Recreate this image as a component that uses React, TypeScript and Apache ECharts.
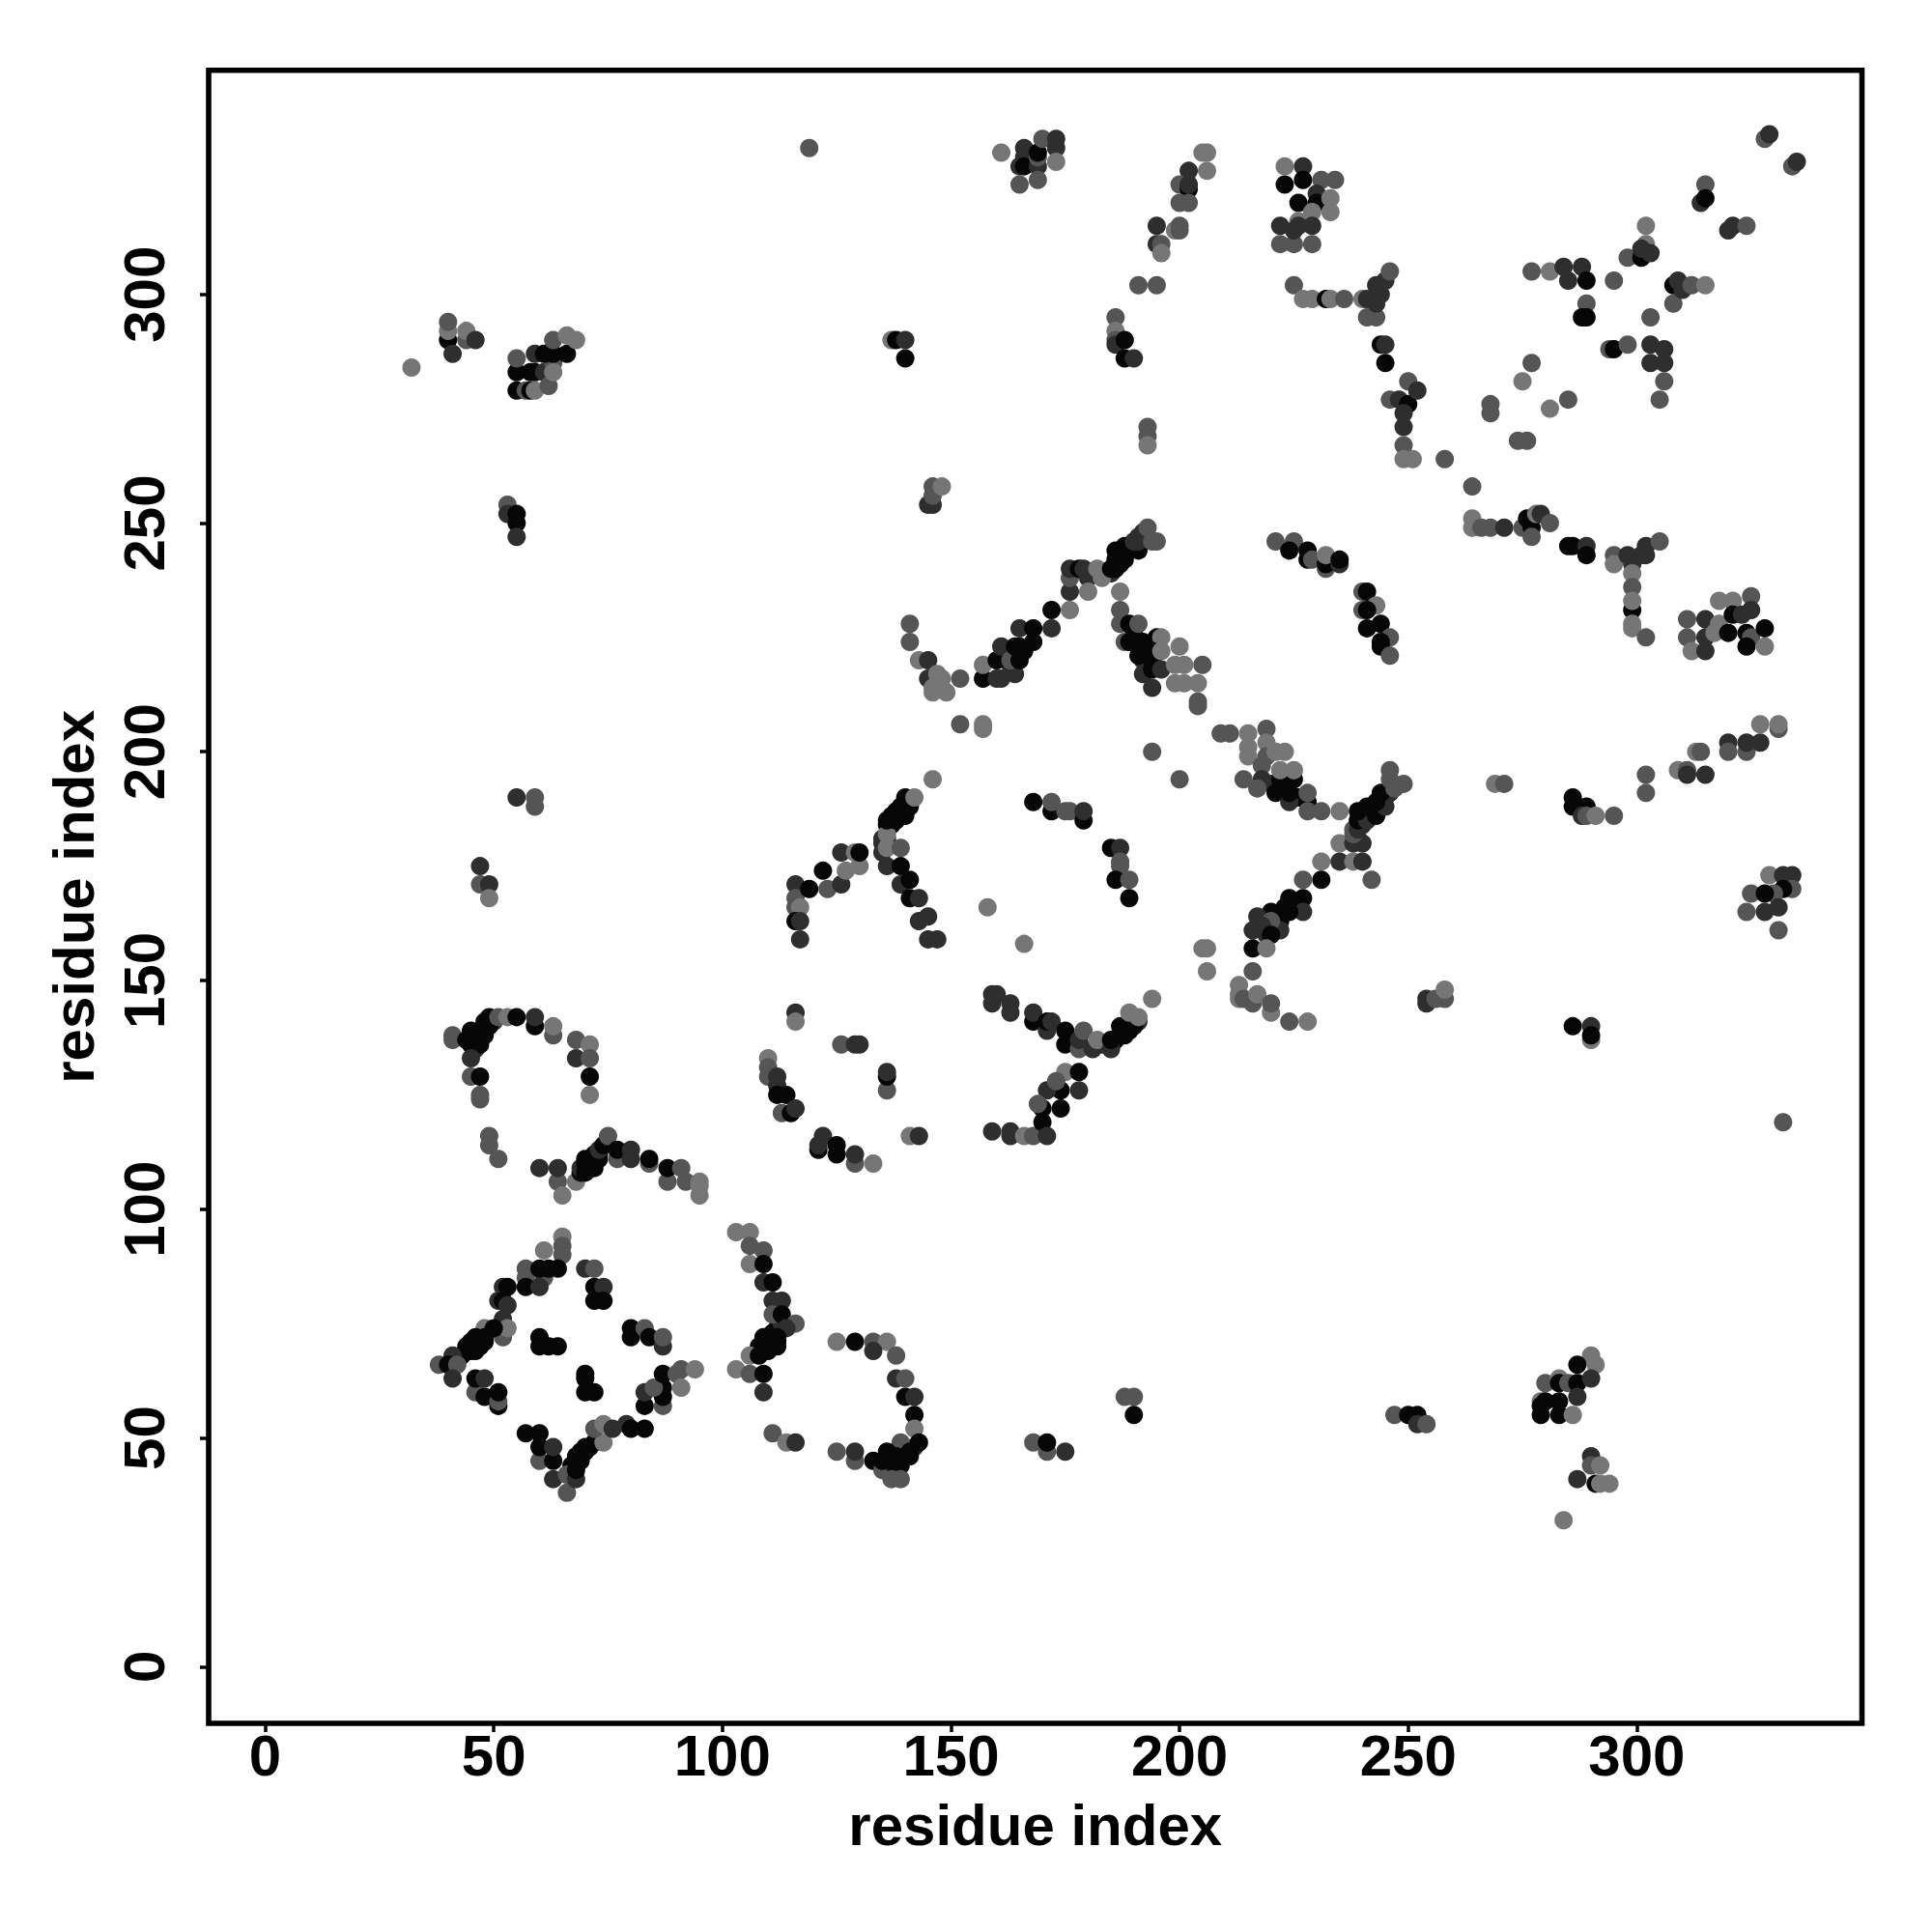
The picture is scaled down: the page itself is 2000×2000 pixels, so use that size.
import React, { useEffect, useRef } from "react";
import * as echarts from "echarts";

type P = [number, number, number];

const xTicks = [0, 50, 100, 150, 200, 250, 300];
const yTicks = [0, 50, 100, 150, 200, 250, 300];
const axisTitle = "residue index";

// [x residue, y residue, contact level: 0 strongest .. 3 weakest]
const denseRuns: P[] = [[245,190,0],[246,191,1],[244,189,0],[242,187,0],[240,186,0],[241,187,0],[243,188,1],[240,184,1],[239,181,2],[187,241,0],[188,243,0],[189,245,0],[190,245,0],[191,247,1],[192,248,1],[186,241,0],[184,239,2],[185,239,1],[137,184,0],[137,186,0],[138,186,0],[139,188,0],[139,187,0],[140,188,0],[141,189,0],[136,181,1],[111,70,0],[112,70,0],[110,71,0],[111,73,0],[112,74,0],[113,75,1],[112,78,1],[46,137,0],[46,135,1],[46,138,0],[47,139,0],[47,138,0],[50,141,1],[67,44,0],[68,44,0],[69,47,0],[70,47,0],[71,48,0],[137,44,0],[139,44,0],[140,47,0],[141,46,0],[142,48,1],[186,137,0],[187,138,0],[189,139,0],[189,140,0],[191,141,1],[183,136,1],[45,69,0],[47,70,0],[47,71,0],[44,70,0],[42,67,1],[72,111,1],[73,112,0],[70,111,0],[220,161,0],[219,160,1],[222,163,0],[223,166,0],[226,167,0],[192,224,0],[190,226,0],[165,223,0],[166,222,0],[163,219,1],[192,220,1],[194,220,0],[222,192,0],[226,190,0],[220,193,1]];
const bandA: P[] = [[49,116,2],[49,114,2],[51,111,2],[60,109,1],[64,106,2],[64,109,1],[65,103,3],[68,106,3],[69,108,0],[69,109,1],[70,108,0],[70,110,0],[71,109,0],[71,111,0],[72,109,0],[72,112,0],[73,111,0],[73,113,1],[74,114,0],[75,116,2],[77,111,2],[77,113,0],[80,111,1],[80,113,1],[84,110,2],[84,111,0],[88,106,2],[88,109,0],[91,109,2],[92,106,2],[95,106,3],[95,105,3],[95,103,3]];
const bandB: P[] = [[121,113,0],[121,114,1],[122,116,1],[125,112,0],[125,114,0],[129,110,2],[129,112,1],[133,110,3],[141,116,3],[143,116,1]];
const diamondNW: P[] = [[65,94,3],[61,91,3],[65,90,2],[65,92,2],[57,87,2],[57,85,2],[61,85,2],[60,87,0],[62,87,0],[64,87,0],[57,83,0],[60,83,1],[52,83,1],[53,83,0],[51,80,1],[52,80,0],[53,79,1],[52,76,1],[52,72,2],[53,74,3],[48,74,3],[50,74,0],[48,72,0],[48,71,0],[46,72,0],[45,71,0],[46,69,0],[44,69,0],[43,68,0],[41,68,1],[38,66,2],[40,66,0],[42,66,2],[41,63,1]];
const diamondSW: P[] = [[46,60,2],[46,63,0],[48,63,1],[48,59,0],[51,57,0],[51,58,2],[51,60,0],[57,51,0],[60,51,0],[60,45,2],[60,48,0],[63,45,0],[63,48,1],[63,41,1],[66,38,2],[66,42,2],[68,41,1],[68,43,0],[69,45,0],[68,46,0],[70,48,0],[72,49,0],[74,49,3]];
const diamondSE: P[] = [[72,52,2],[74,53,3],[76,52,1],[79,53,1],[80,52,0],[83,52,0],[83,57,0],[83,60,1],[87,57,2],[87,59,0],[87,61,0],[85,61,2],[87,64,0],[90,64,2],[91,61,3],[91,65,2],[94,65,3]];
const diamondCore: P[] = [[60,72,0],[60,70,0],[62,70,0],[64,70,0],[70,64,0],[70,63,0],[70,60,0],[72,60,0],[70,87,1],[72,87,2],[72,83,0],[74,83,1],[72,80,0],[74,80,0],[80,74,0],[80,72,0],[83,74,2],[84,72,0],[87,70,1],[87,72,2]];
const arcRight: P[] = [[103,95,3],[106,95,3],[106,92,2],[106,88,3],[109,91,2],[109,88,0],[109,84,1],[111,84,0],[111,80,1],[113,80,1],[111,77,2],[113,77,0],[116,75,2],[114,74,1],[112,72,0],[112,71,0],[109,72,0],[108,70,0],[110,69,0],[106,68,3],[108,68,0],[103,65,3],[106,64,2],[109,64,0],[109,60,1],[111,51,2],[114,49,3],[116,49,1]];
const hookC: P[] = [[125,71,3],[129,71,0],[133,71,2],[136,71,3],[133,69,1],[138,68,2],[138,63,1],[140,63,2],[140,59,0],[142,59,1],[142,55,0],[142,52,3],[139,49,2],[141,47,0],[143,49,0],[136,47,0],[133,45,0],[135,43,2],[135,45,0],[138,46,0],[138,43,0],[137,41,2],[139,41,2],[125,47,2],[129,45,2],[129,47,1]];
const lowCentre: P[] = [[168,49,2],[171,47,2],[171,49,0],[175,47,1],[188,59,2],[190,59,2],[190,55,0],[247,55,2],[250,55,0],[252,55,0],[252,53,1],[254,53,2]];
const clusterLowRight: P[] = [[290,68,3],[291,66,3],[287,66,0],[280,62,2],[283,63,3],[283,62,0],[285,62,2],[287,62,0],[290,63,1],[279,58,3],[279,57,0],[280,58,0],[283,58,0],[287,59,1],[279,55,0],[283,55,0],[286,55,3],[290,46,1],[287,41,1],[290,44,2],[291,40,0],[292,44,3],[292,40,3],[294,40,3],[284,32,3]];
const archLeft: P[] = [[55,190,1],[59,188,2],[59,190,2],[47,175,1],[47,171,2],[49,171,1],[49,168,3],[41,138,2],[41,137,2],[44,137,0],[45,139,0],[45,136,0],[47,136,0],[45,133,1],[48,138,0],[48,141,0],[49,140,0],[49,142,0],[51,142,2],[53,142,3],[55,142,0],[59,140,0],[59,142,1],[63,138,2],[63,140,3],[68,137,2],[71,136,3],[68,133,1],[71,133,2],[71,129,0],[71,125,3],[45,129,2],[47,129,0],[47,125,2],[47,124,2]];
const archMid: P[] = [[116,171,1],[116,168,2],[116,166,2],[117,166,3],[116,163,0],[117,163,1],[117,159,1],[119,170,0],[123,170,2],[126,171,1],[122,174,0],[127,174,3],[130,175,3],[126,178,1],[129,178,3],[130,178,0],[146,194,3],[135,178,1],[136,175,1],[139,175,0],[135,180,1],[135,181,1],[136,184,0],[136,182,3],[136,179,3],[139,179,2],[138,185,0],[136,185,0],[138,187,0],[140,186,0],[141,188,0],[140,190,0],[142,190,3],[139,171,1],[141,172,0],[141,168,0],[143,168,1],[143,163,1],[145,164,1],[145,159,1],[147,159,1]];
const ringLow: P[] = [[116,143,1],[116,141,3],[126,136,2],[129,136,1],[130,136,1],[136,126,2],[136,129,0],[136,130,1],[110,133,3],[110,131,2],[110,129,2],[112,129,1],[112,127,1],[112,125,0],[114,125,0],[113,121,2],[115,121,0],[116,122,1],[159,117,1],[163,116,1],[163,117,1],[166,116,3],[168,116,2],[170,119,0],[171,116,1],[170,122,0],[174,122,0],[174,126,0],[171,126,1],[169,123,2],[178,126,1],[175,130,3],[173,128,2],[178,130,0]];
const ringTop: P[] = [[168,189,0],[172,187,0],[172,189,2],[175,187,2],[176,187,2],[179,185,0],[179,187,1],[185,179,0],[187,179,1],[187,176,2],[187,175,2],[186,172,0],[189,172,2],[189,168,0],[158,166,3],[166,158,3]];
const ringVee: P[] = [[159,145,1],[159,147,1],[160,147,1],[163,145,1],[163,143,1],[168,141,0],[168,143,1],[171,139,1],[171,141,0],[172,141,1],[175,136,0],[175,139,0],[178,135,2],[178,137,1],[179,139,2],[181,135,1],[182,137,3],[185,135,1],[185,137,0],[187,140,0],[188,138,0],[190,140,0],[189,143,3],[191,142,3],[194,146,3]];
const crossLeft: P[] = [[194,200,2],[200,194,2],[209,204,2],[211,204,2],[215,204,3],[219,205,2],[219,202,3],[215,201,3],[215,199,3],[219,199,2],[221,200,3],[223,200,3],[218,197,2],[222,194,0],[225,194,0],[222,196,3],[225,196,3],[214,194,2],[218,194,1],[217,192,2],[221,191,0],[224,189,1],[224,191,0],[228,189,0],[228,191,2],[228,187,2],[231,187,2],[235,187,3]];
const crossRise: P[] = [[231,176,3],[231,172,0],[227,172,2],[227,168,0],[224,168,0],[227,165,1],[224,165,0],[220,165,0],[221,164,0],[217,164,1],[222,161,1],[220,163,2],[218,162,1],[220,160,0],[216,161,1],[216,157,0],[219,157,3],[205,157,3],[206,157,3],[206,152,3],[216,152,2],[213,149,3],[213,147,3],[213,146,3],[214,146,2],[216,145,2],[217,147,3],[220,143,3],[220,145,2],[224,141,2],[228,141,3]];
const crossArm: P[] = [[242,172,2],[235,176,1],[238,176,3],[240,176,1],[235,180,3],[238,180,1],[240,180,1],[238,182,2],[238,183,2],[239,183,1],[239,185,0],[241,185,1],[239,187,0],[243,186,0],[241,188,0],[245,188,1],[243,189,0],[244,191,0],[247,192,2],[249,193,2],[246,194,2],[246,196,2]];
const stemLeft: P[] = [[145,254,1],[146,254,1],[146,256,2],[146,258,2],[148,258,3],[141,228,2],[141,224,2],[143,220,3],[145,220,1],[145,216,1],[147,217,3],[148,216,3],[146,214,3],[148,214,3],[146,213,3],[149,213,3],[152,216,2],[152,206,2],[157,206,3],[157,205,3]];
const riseCentre: P[] = [[157,216,0],[157,219,3],[160,216,1],[161,216,1],[164,217,1],[160,220,0],[161,223,1],[163,220,2],[165,220,0],[164,223,0],[165,227,1],[168,224,0],[168,227,0],[172,227,1],[172,231,0],[176,231,3],[176,235,1],[176,238,2],[176,240,1],[178,240,0],[179,240,1],[180,238,1],[180,235,3],[183,238,3],[182,240,3],[185,240,0],[186,240,0],[186,242,0],[186,244,0],[188,242,0],[188,245,0],[189,244,0],[191,244,0],[190,246,1],[191,246,1],[193,249,2],[194,246,2],[195,246,2]];
const fallCentre: P[] = [[187,235,3],[187,231,2],[187,228,2],[189,228,0],[191,228,2],[188,224,2],[189,224,0],[191,224,0],[191,221,0],[195,225,0],[196,225,3],[194,222,0],[196,222,3],[192,217,1],[194,218,0],[194,214,1],[196,218,1],[200,223,3],[199,219,3],[201,219,3],[205,219,2],[199,215,3],[201,215,3],[204,215,3],[204,211,2],[204,210,2]];
const blockTop: P[] = [[119,332,2],[161,331,3],[166,332,1],[166,330,1],[165,328,1],[166,328,0],[169,328,1],[169,330,2],[169,331,0],[170,334,2],[173,334,1],[173,332,1],[173,329,3],[165,324,2],[169,325,2]];
const risingTop: P[] = [[205,331,3],[206,331,3],[202,327,1],[206,327,3],[200,324,2],[202,323,0],[202,324,1],[200,320,2],[202,320,2],[195,315,1],[199,314,3],[200,315,2],[200,314,2],[195,311,1],[196,311,2],[196,309,3],[191,302,2],[195,302,2],[186,295,2],[186,292,3],[186,290,2],[186,289,1],[188,290,0],[188,286,0],[190,286,1],[137,290,3],[138,290,0],[140,290,1],[140,286,0],[193,271,2],[193,269,2],[193,267,3]];
const blockUpperLeft: P[] = [[32,284,3],[40,290,0],[40,292,3],[40,294,2],[41,287,1],[44,290,2],[44,292,3],[46,290,1],[55,283,0],[55,286,2],[55,279,0],[57,279,2],[58,279,0],[59,279,3],[58,283,0],[59,283,0],[59,287,1],[61,283,1],[62,280,2],[63,285,2],[61,287,0],[63,287,0],[63,283,3],[63,290,2],[66,287,0],[66,291,3],[68,290,3],[53,254,2],[53,252,1],[55,252,0],[55,250,0],[55,247,1]];
const blockCorner: P[] = [[223,324,0],[223,328,3],[227,328,1],[227,325,0],[231,325,2],[234,325,2],[226,320,0],[230,322,1],[230,320,0],[233,321,3],[226,316,3],[229,318,3],[233,318,3],[222,311,2],[225,311,2],[229,311,2],[222,315,1],[225,314,1],[226,315,1],[229,315,1],[225,302,2],[227,299,3],[229,299,3],[232,299,0],[233,299,3],[236,299,2],[240,299,3],[241,299,1],[241,295,2],[243,295,2],[243,298,1],[244,300,1],[243,302,1],[245,303,1],[246,305,2]];
const dropRight: P[] = [[244,289,0],[245,289,1],[245,285,0],[250,281,2],[246,277,2],[248,277,1],[250,276,0],[252,279,1],[249,274,1],[249,271,1],[249,267,2],[249,264,3],[251,264,3],[258,264,2],[264,258,2],[268,276,2],[268,274,2],[275,281,3],[277,285,2],[274,268,2],[276,268,2],[281,275,3],[285,277,2]];
const webUpperRight: P[] = [[277,305,2],[281,305,3],[284,306,1],[288,306,1],[285,303,1],[289,303,0],[295,303,2],[289,298,2],[288,295,0],[289,295,0],[294,288,2],[295,288,0],[298,289,2],[303,289,1],[306,288,1],[303,285,1],[306,285,1],[306,281,2],[305,277,2],[303,295,2],[308,298,2],[308,302,0],[309,303,1],[310,301,1],[312,302,2],[315,302,3],[298,308,2],[302,315,3],[302,311,3],[301,308,0],[301,310,1],[303,309,1],[315,324,2],[314,320,1],[315,321,0],[320,314,1],[321,315,1],[324,315,2],[328,334,2],[329,335,1],[334,328,2],[335,329,1]];
const ridge250: P[] = [[221,246,2],[225,246,2],[224,244,0],[228,244,0],[228,242,0],[229,242,2],[232,240,2],[232,241,0],[232,243,3],[235,241,1],[235,242,0],[240,235,2],[241,235,0],[243,232,3],[240,231,2],[241,231,0],[244,228,0],[241,227,0],[246,225,2],[244,224,0],[244,223,0],[246,221,2],[264,251,3],[264,249,3],[266,249,2],[268,249,2],[271,249,1],[275,249,2],[276,251,0],[277,249,0],[278,252,3],[279,252,1],[281,250,2],[277,247,2],[285,245,0],[286,245,0],[289,245,1],[289,243,0]];
const ridge300: P[] = [[295,243,2],[295,241,3],[298,243,1],[299,241,1],[299,239,3],[301,243,1],[302,243,1],[302,245,1],[305,246,2],[299,236,2],[299,231,0],[299,233,3],[299,228,3],[299,227,3],[302,225,2],[311,229,2],[311,225,2],[312,222,3],[315,229,1],[315,225,1],[315,222,1],[318,233,3],[321,233,3],[325,234,2],[318,228,3],[317,226,3],[321,230,0],[323,230,1],[325,231,1],[320,226,0],[324,226,0],[325,225,2],[328,227,0],[324,223,0],[328,223,3]];
const tail190: P[] = [[269,193,3],[271,193,2],[286,190,0],[286,188,0],[289,188,0],[288,186,1],[289,186,2],[291,186,3],[295,186,2],[302,195,2],[302,191,2],[309,196,3],[311,196,2],[311,195,1],[315,195,1],[313,200,3],[314,200,2],[320,202,1],[320,200,2],[324,200,2],[324,202,1],[327,202,1],[327,206,3],[331,205,2],[331,206,3]];
const farRight: P[] = [[329,173,3],[332,173,1],[334,173,1],[334,170,2],[332,170,0],[330,169,2],[325,169,2],[328,169,0],[324,165,2],[328,165,1],[331,166,1],[331,161,2],[254,146,1],[254,145,1],[256,146,2],[258,146,2],[258,148,3],[286,140,0],[290,140,1],[290,137,3],[290,138,0],[332,119,2]];

const allPoints: P[] = [denseRuns, bandA, bandB, diamondNW, diamondSW, diamondSE, diamondCore, arcRight, hookC, lowCentre, clusterLowRight, archLeft, archMid, ringLow, ringTop, ringVee, crossLeft, crossRise, crossArm, stemLeft, riseCentre, fallCentre, blockTop, risingTop, blockUpperLeft, blockCorner, dropRight, webUpperRight, ridge250, ridge300, tail190, farRight].flat();

const levelColors = ["#060606", "#2e2e2e", "#555555", "#767676"];
const FONT = "'Liberation Sans', Arial, sans-serif";

export default function App() {
  const ref = useRef<HTMLDivElement>(null);
  useEffect(() => {
    const chart = echarts.init(ref.current!, undefined, { renderer: "svg" });
    const axisBase = {
      type: "value",
      min: -12.36,
      splitLine: { show: false },
      axisLine: { show: false, onZero: false },
      nameLocation: "middle",
      nameTextStyle: { fontFamily: FONT, fontWeight: "bold", fontSize: 60, color: "#000" },
    };
    chart.setOption({
      animation: false,
      backgroundColor: "#fff",
      grid: { show: true, left: 216, top: 72.7, width: 1711.5, height: 1711.3, borderColor: "#000", borderWidth: 5.6, backgroundColor: "transparent" },
      xAxis: {
        ...axisBase,
        max: 349.25,
        name: axisTitle,
        nameGap: 75,
        axisTick: { show: true, length: 9, customValues: xTicks, lineStyle: { color: "#000", width: 3.5 } },
        axisLabel: { customValues: xTicks, margin: 3, fontFamily: FONT, fontWeight: "bold", fontSize: 60, color: "#000" },
      },
      yAxis: {
        ...axisBase,
        min: -12.4,
        max: 349,
        name: axisTitle,
        nameGap: 110,
        nameRotate: 90,
        axisTick: { show: true, length: 9, customValues: yTicks, lineStyle: { color: "#000", width: 3.5 } },
        axisLabel: { customValues: yTicks, rotate: 90, margin: 67, fontFamily: FONT, fontWeight: "bold", fontSize: 60, color: "#000", verticalAlign: "middle", align: "center" },
      },
      series: [{
        type: "scatter",
        data: allPoints,
        symbol: "circle",
        symbolSize: 19,
        clip: false,
        itemStyle: { opacity: 1, color: (p: any) => levelColors[p.data[2]] },
      }],
    });
    return () => chart.dispose();
  }, []);
  return <div ref={ref} style={{ position: "absolute", left: 0, top: 0, width: 2000, height: 2000, background: "#fff" }} />;
}
